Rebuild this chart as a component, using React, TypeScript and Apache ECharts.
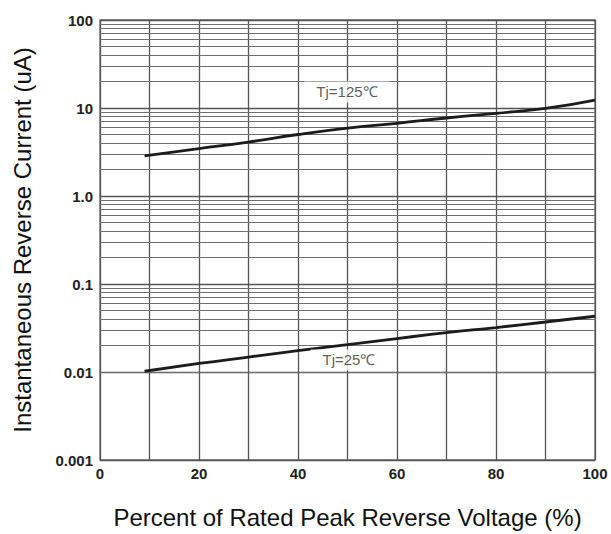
import React, { useEffect, useRef } from "react";
import * as echarts from "echarts";

const xPercent = [9, 20, 30, 40, 50, 60, 70, 80, 90, 100];
const current125 = [2.85, 3.45, 4.1, 5.0, 5.9, 6.7, 7.7, 8.7, 9.9, 12.3];
const current25 = [0.0102, 0.0125, 0.0148, 0.0175, 0.0205, 0.024, 0.028, 0.032, 0.037, 0.043];
const yTickLabels: Record<string, string> = {
  "100": "100",
  "10": "10",
  "1": "1.0",
  "0.1": "0.1",
  "0.01": "0.01",
  "0.001": "0.001",
};
const decades = [0.001, 0.01, 0.1, 1, 10];
const minorMultipliers = [2, 3, 4, 5, 6, 7, 8, 9];
const annotations = [
  { name: "Tj=125℃", x: 49.9, y: 15.2 },
  { name: "Tj=25℃", x: 50.3, y: 0.0137 },
];

const FONT = "Arial, 'Liberation Sans', sans-serif";

export default function App() {
  const ref = useRef<HTMLDivElement>(null);
  useEffect(() => {
    if (!ref.current) return;
    const chart = echarts.init(ref.current, null, { renderer: "svg" });
    const minorLines: any[] = [];
    decades.forEach((d) =>
      minorMultipliers.forEach((m) => minorLines.push({ yAxis: +(d * m).toPrecision(3) }))
    );
    const lineStyle = { color: "#1c1c1c", width: 2.8 };
    chart.setOption({
      animation: false,
      backgroundColor: "#fff",
      grid: {
        left: 100,
        top: 20,
        width: 495,
        height: 440,
        show: true,
        borderColor: "#6a6a6a",
        borderWidth: 1.3,
      },
      xAxis: {
        type: "value",
        min: 0,
        max: 100,
        interval: 10,
        axisLine: { show: false },
        axisTick: { show: false },
        splitLine: { show: true, lineStyle: { color: "#555", width: 1.3 } },
        axisLabel: {
          margin: 6,
          fontFamily: FONT,
          fontWeight: "bold",
          fontSize: 15,
          color: "#222",
          formatter: (v: number) => (v % 20 === 0 ? String(v) : ""),
        },
        name: "Percent of Rated Peak Reverse Voltage (%)",
        nameLocation: "middle",
        nameGap: 45,
        nameTextStyle: {
          fontFamily: FONT,
          fontSize: 24,
          color: "#111",
        },
      },
      yAxis: {
        type: "log",
        logBase: 10,
        min: 0.001,
        max: 100,
        axisLine: { show: false },
        axisTick: { show: false },
        splitLine: { show: true, lineStyle: { color: "#555", width: 1.3 } },
        axisLabel: {
          margin: 7,
          fontFamily: FONT,
          fontWeight: "bold",
          fontSize: 15,
          color: "#222",
          padding: [0, 0, 5, 0],
          formatter: (v: number) => yTickLabels[String(+v.toPrecision(3))] ?? "",
        },
        name: "Instantaneous Reverse Current (uA)",
        nameLocation: "middle",
        nameGap: 66,
        nameRotate: 90,
        nameTextStyle: {
          fontFamily: FONT,
          fontSize: 24,
          color: "#111",
        },
      },
      series: [
        {
          type: "line",
          data: [],
          silent: true,
          markLine: {
            silent: true,
            symbol: "none",
            label: { show: false },
            lineStyle: { color: "#6e6e6e", width: 1.2, type: "solid" },
            data: minorLines,
          },
        },
        {
          name: "Tj=125",
          type: "line",
          smooth: true,
          showSymbol: false,
          lineStyle,
          z: 5,
          data: xPercent.map((x, i) => [x, current125[i]]),
        },
        {
          name: "Tj=25",
          type: "line",
          smooth: true,
          showSymbol: false,
          lineStyle,
          z: 5,
          data: xPercent.map((x, i) => [x, current25[i]]),
        },
        {
          type: "scatter",
          symbolSize: 0,
          z: 6,
          data: annotations.map((a) => ({ name: a.name, value: [a.x, a.y] })),
          label: {
            show: true,
            position: "inside",
            formatter: (p: any) => p.name,
            fontFamily: FONT,
            fontSize: 15,
            color: "#333",
            backgroundColor: "#fff",
            padding: [3, 12],
          },
        },
      ],
    });
    return () => chart.dispose();
  }, []);
  return (
    <div
      ref={ref}
      style={{ position: "fixed", left: 0, top: 0, width: 611, height: 534 }}
    />
  );
}
